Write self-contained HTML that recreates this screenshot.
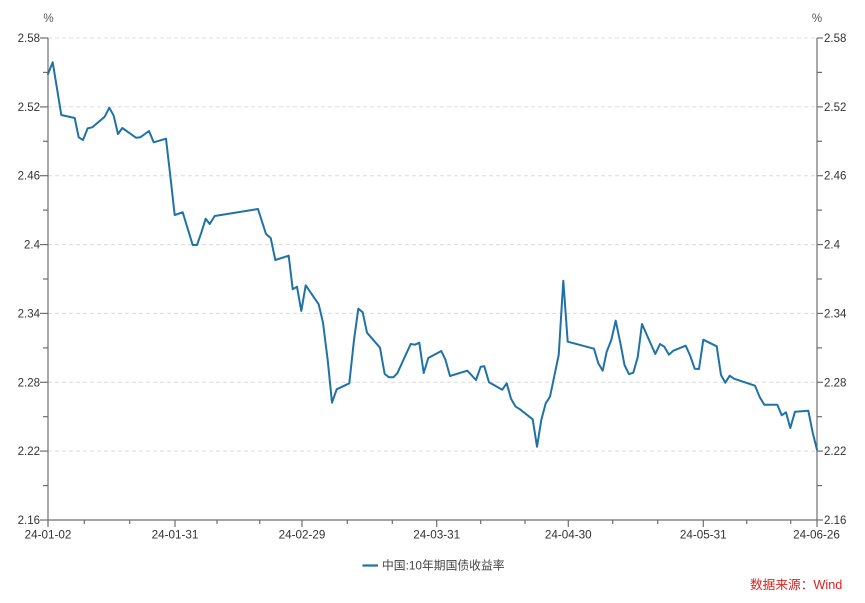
<!DOCTYPE html>
<html>
<head>
<meta charset="utf-8">
<style>
  html, body { margin:0; padding:0; background:#ffffff; }
  svg { display:block; }
  text { font-family: "Liberation Sans", "Noto Sans CJK SC", sans-serif; }
</style>
</head>
<body>
<svg width="865" height="603" viewBox="0 0 865 603" xmlns="http://www.w3.org/2000/svg">
  <rect x="0" y="0" width="865" height="603" fill="#ffffff"/>

  <!-- gridlines -->
  <g stroke="#dcdcdc" stroke-width="1" stroke-dasharray="4,3">
    <line x1="48" y1="38" x2="817" y2="38"/>
    <line x1="48" y1="106.9" x2="817" y2="106.9"/>
    <line x1="48" y1="175.7" x2="817" y2="175.7"/>
    <line x1="48" y1="244.6" x2="817" y2="244.6"/>
    <line x1="48" y1="313.4" x2="817" y2="313.4"/>
    <line x1="48" y1="382.3" x2="817" y2="382.3"/>
    <line x1="48" y1="451.1" x2="817" y2="451.1"/>
  </g>

  <!-- axes -->
  <g stroke="#6e6e6e" stroke-width="1.2" fill="none">
    <line x1="48" y1="38" x2="48" y2="520"/>
    <line x1="817" y1="38" x2="817" y2="520"/>
    <line x1="48" y1="520" x2="817" y2="520"/>
    <line x1="40" y1="38" x2="48" y2="38"/>
    <line x1="40" y1="106.9" x2="48" y2="106.9"/>
    <line x1="40" y1="175.7" x2="48" y2="175.7"/>
    <line x1="40" y1="244.6" x2="48" y2="244.6"/>
    <line x1="40" y1="313.4" x2="48" y2="313.4"/>
    <line x1="40" y1="382.3" x2="48" y2="382.3"/>
    <line x1="40" y1="451.1" x2="48" y2="451.1"/>
    <line x1="40" y1="520" x2="48" y2="520"/>
    <line x1="43" y1="72.4" x2="48" y2="72.4"/>
    <line x1="43" y1="141.3" x2="48" y2="141.3"/>
    <line x1="43" y1="210.1" x2="48" y2="210.1"/>
    <line x1="43" y1="279" x2="48" y2="279"/>
    <line x1="43" y1="347.9" x2="48" y2="347.9"/>
    <line x1="43" y1="416.7" x2="48" y2="416.7"/>
    <line x1="43" y1="485.6" x2="48" y2="485.6"/>
    <line x1="817" y1="38" x2="823" y2="38"/>
    <line x1="817" y1="106.9" x2="823" y2="106.9"/>
    <line x1="817" y1="175.7" x2="823" y2="175.7"/>
    <line x1="817" y1="244.6" x2="823" y2="244.6"/>
    <line x1="817" y1="313.4" x2="823" y2="313.4"/>
    <line x1="817" y1="382.3" x2="823" y2="382.3"/>
    <line x1="817" y1="451.1" x2="823" y2="451.1"/>
    <line x1="817" y1="520" x2="823" y2="520"/>
    <line x1="817" y1="72.4" x2="822" y2="72.4"/>
    <line x1="817" y1="141.3" x2="822" y2="141.3"/>
    <line x1="817" y1="210.1" x2="822" y2="210.1"/>
    <line x1="817" y1="279" x2="822" y2="279"/>
    <line x1="817" y1="347.9" x2="822" y2="347.9"/>
    <line x1="817" y1="416.7" x2="822" y2="416.7"/>
    <line x1="817" y1="485.6" x2="822" y2="485.6"/>
    <line x1="48" y1="520" x2="48" y2="527"/>
    <line x1="175" y1="520" x2="175" y2="527"/>
    <line x1="302" y1="520" x2="302" y2="527"/>
    <line x1="436.7" y1="520" x2="436.7" y2="527"/>
    <line x1="568.3" y1="520" x2="568.3" y2="527"/>
    <line x1="703.3" y1="520" x2="703.3" y2="527"/>
    <line x1="817" y1="520" x2="817" y2="527"/>
    <line x1="84.3" y1="520" x2="84.3" y2="524"/>
    <line x1="129.7" y1="520" x2="129.7" y2="524"/>
    <line x1="217" y1="520" x2="217" y2="524"/>
    <line x1="259.7" y1="520" x2="259.7" y2="524"/>
    <line x1="347.3" y1="520" x2="347.3" y2="524"/>
    <line x1="392.3" y1="520" x2="392.3" y2="524"/>
    <line x1="480.7" y1="520" x2="480.7" y2="524"/>
    <line x1="525" y1="520" x2="525" y2="524"/>
    <line x1="612.7" y1="520" x2="612.7" y2="524"/>
    <line x1="657.7" y1="520" x2="657.7" y2="524"/>
    <line x1="746.7" y1="520" x2="746.7" y2="524"/>
    <line x1="790.7" y1="520" x2="790.7" y2="524"/>
  </g>

  <g font-size="11.5" fill="#333333" text-anchor="end">
    <text x="40" y="42">2.58</text>
    <text x="40" y="110.9">2.52</text>
    <text x="40" y="179.7">2.46</text>
    <text x="40" y="248.6">2.4</text>
    <text x="40" y="317.4">2.34</text>
    <text x="40" y="386.3">2.28</text>
    <text x="40" y="455.1">2.22</text>
    <text x="40" y="524">2.16</text>
  </g>
  <g font-size="11.5" fill="#333333" text-anchor="start">
    <text x="824" y="42">2.58</text>
    <text x="824" y="110.9">2.52</text>
    <text x="824" y="179.7">2.46</text>
    <text x="824" y="248.6">2.4</text>
    <text x="824" y="317.4">2.34</text>
    <text x="824" y="386.3">2.28</text>
    <text x="824" y="455.1">2.22</text>
    <text x="824" y="524">2.16</text>
  </g>
  <g font-size="11.5" fill="#555555" text-anchor="middle">
    <text x="48.5" y="22">%</text>
    <text x="817" y="22">%</text>
  </g>

  <g font-size="11.7" fill="#333333" text-anchor="middle">
    <text x="48" y="538.5">24-01-02</text>
    <text x="175" y="538.5">24-01-31</text>
    <text x="302" y="538.5">24-02-29</text>
    <text x="436.7" y="538.5">24-03-31</text>
    <text x="568.3" y="538.5">24-04-30</text>
    <text x="703.3" y="538.5">24-05-31</text>
    <text x="816.5" y="538.5">24-06-26</text>
  </g>

  <polyline fill="none" stroke="#1f72a6" stroke-width="2" stroke-linejoin="round" stroke-linecap="round"
    points="48,74 52.7,62.3 56.7,86.7 61.3,115 74.7,118 78.7,137.3 83,140 87.7,128.3 92.3,127.3 104.7,116.7 109.3,107.7 113.7,115.7 118,134 122.3,128 136,137.7 140.3,137.3 149,131 153.7,142.3 166,138.7 170,173.3 174.7,215 182.7,212.3 192.7,245 197,245 201.3,232.7 205.7,218.7 209.7,224 214.7,216 258,209 266,234 270.7,238 275.3,260 288.7,255.7 292.7,289.3 297,286.7 301.3,311 305.7,285.3 318.7,304.3 323,322.7 327.7,360 332,402.7 336.7,389.3 349.3,383.3 354,340 358.3,308.7 362.7,312.3 367,332.7 380,347.7 384.7,374 389,377.3 393.3,377.3 397.3,373.3 410.7,344 415,344.7 419.3,342.7 423.7,373 428.3,358 441.3,351 445.3,359.3 450,376 467.3,370.7 476,380 480.7,366.7 484.3,366.3 489,382.3 502.3,389.7 506.7,383.3 511,398.7 515.7,406.7 520,409.3 532.7,419.3 537,446.7 541.3,420 545.7,403.3 550,396.7 558.7,355 563.3,280.7 567.7,341.7 594,348.7 598.3,363.3 602.7,370.7 606.7,351.7 611.3,340 615.7,320.7 620.3,342.7 624.5,365 629,374.2 633.3,372.7 637.7,357.3 642,324 655.3,354 660,344 664.3,346.7 669,354.7 673.3,350.7 685.7,345.7 690.3,356 694.7,368.7 699,369 703.3,339.7 716.7,346.3 721,375 725.3,382.7 729.7,375.7 734,378.7 755,385.7 760,397.7 764.3,404.7 777.3,404.7 781.7,415.3 786,412.3 790.3,428 795,411.7 808.3,410.7 812.7,432.7 817,449.7"/>

  <line x1="362.5" y1="565.5" x2="378" y2="565.5" stroke="#1f72a6" stroke-width="2.2"/>
  <text x="382" y="569.6" font-size="11.8" fill="#444444">中国:10年期国债收益率</text>

  <text x="750" y="589" font-size="12.7" fill="#e02020">数据来源：Wind</text>
</svg>
</body>
</html>
